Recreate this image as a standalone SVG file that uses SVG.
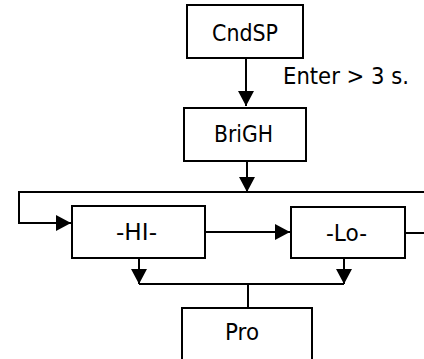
<svg xmlns="http://www.w3.org/2000/svg" width="424" height="359" viewBox="0 0 424 359">
<style>
.box{fill:#fff;stroke:#000;stroke-width:2}
.lbl{font-family:"DejaVu Sans",sans-serif;font-size:23.5px;fill:#000}
.c{fill:none;stroke:#000;stroke-width:2}
</style>
<defs>
<marker id="ah" viewBox="0 0 15 16" refX="15" refY="8" markerWidth="15" markerHeight="16" markerUnits="userSpaceOnUse" orient="auto">
<path d="M0,0 L15,8 L0,16 z" fill="#000"/>
</marker>
</defs>
<rect width="424" height="359" fill="#fff"/>
<g id="connectors">
<path class="c" d="M246,58 V106" marker-end="url(#ah)"/>
<path class="c" d="M247,161 V192" marker-end="url(#ah)"/>
<path class="c" d="M424,192 H19 V223 H71" marker-end="url(#ah)"/>
<path class="c" d="M205,232 H290" marker-end="url(#ah)"/>
<path class="c" d="M405,233 H424"/>
<path class="c" d="M139,258 V284" marker-end="url(#ah)"/>
<path class="c" d="M344,258 V284" marker-end="url(#ah)"/>
<path class="c" d="M139,284 H344"/>
<path class="c" d="M248,284 V308"/>
<text class="lbl" x="283" y="84" textLength="126" lengthAdjust="spacingAndGlyphs">Enter &gt; 3 s.</text>
</g>
<g id="CndSP">
<rect class="box" x="187" y="5" width="116" height="53"/>
<text class="lbl" x="212" y="41" textLength="66" lengthAdjust="spacingAndGlyphs">CndSP</text>
</g>
<g id="BriGH">
<rect class="box" x="184" y="108" width="122" height="53"/>
<text class="lbl" x="214" y="142" textLength="59" lengthAdjust="spacingAndGlyphs">BriGH</text>
</g>
<g id="HI">
<rect class="box" x="72" y="206" width="133" height="52"/>
<text class="lbl" x="116" y="240" textLength="41" lengthAdjust="spacingAndGlyphs">-HI-</text>
</g>
<g id="Lo">
<rect class="box" x="291" y="207" width="114" height="51"/>
<text class="lbl" x="326" y="241" textLength="41" lengthAdjust="spacingAndGlyphs">-Lo-</text>
</g>
<g id="Pro">
<rect class="box" x="182" y="308" width="130" height="60"/>
<text class="lbl" x="225" y="340" textLength="34" lengthAdjust="spacingAndGlyphs">Pro</text>
</g>
</svg>
